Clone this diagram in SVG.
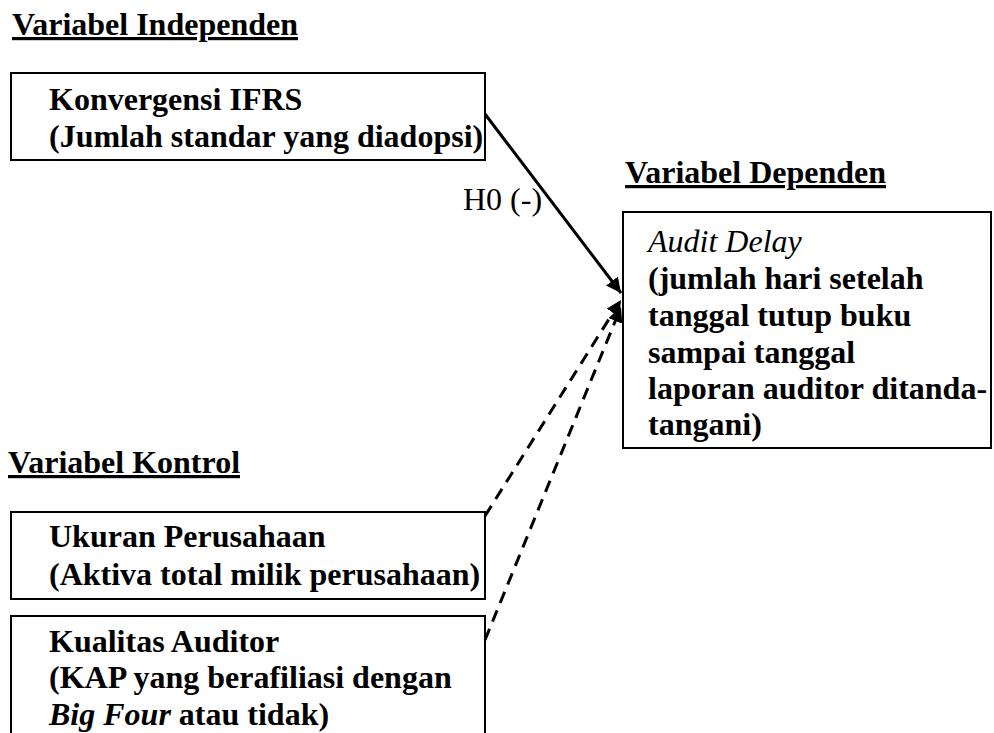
<svg xmlns="http://www.w3.org/2000/svg" width="994" height="733" viewBox="0 0 994 733">
<style>
text{font-family:"Liberation Serif","Times New Roman",serif;font-size:32px;fill:#000}
.b{font-weight:bold}
.t{font-weight:bold;text-decoration:underline}
.i{font-style:italic}
.box{fill:#fff;stroke:#000;stroke-width:2}
.c{stroke:#000;stroke-width:3;fill:none}
.d{stroke-dasharray:12 8}
</style>
<defs>
<marker id="ah" viewBox="0 0 10 10" refX="10" refY="5" markerWidth="5" markerHeight="5" markerUnits="strokeWidth" orient="auto">
<path d="M0,0L10,5L0,10z" fill="#000"/>
</marker>
</defs>
<rect width="994" height="733" fill="#fff"/>
<text class="t" x="12" y="35">Variabel Independen</text>
<text class="t" x="625" y="183">Variabel Dependen</text>
<text class="t" x="8" y="473">Variabel Kontrol</text>
<g id="n-ifrs">
<rect class="box" x="11" y="73" width="474" height="87"/>
<text class="b" x="49" y="110">Konvergensi IFRS</text>
<text class="b" x="49" y="147">(Jumlah standar yang diadopsi)</text>
</g>
<g id="n-delay">
<rect class="box" x="623" y="212" width="368" height="236"/>
<text class="i" x="648" y="252">Audit Delay</text>
<text class="b" x="648" y="289">(jumlah hari setelah</text>
<text class="b" x="648" y="326">tanggal tutup buku</text>
<text class="b" x="648" y="363">sampai tanggal</text>
<text class="b" x="648" y="399">laporan auditor ditanda-</text>
<text class="b" x="648" y="435">tangani)</text>
</g>
<g id="n-ukuran">
<rect class="box" x="11" y="512" width="474" height="87"/>
<text class="b" x="49" y="547">Ukuran Perusahaan</text>
<text class="b" x="49" y="585">(Aktiva total milik perusahaan)</text>
</g>
<g id="n-kualitas">
<rect class="box" x="11" y="616" width="474" height="130"/>
<text class="b" x="49" y="652">Kualitas Auditor</text>
<text class="b" x="49" y="688">(KAP yang berafiliasi dengan</text>
<text class="b" x="49" y="725"><tspan class="i">Big Four</tspan> atau tidak)</text>
</g>
<g id="connectors">
<line class="c" x1="485" y1="114" x2="621" y2="293" marker-end="url(#ah)"/>
<text x="463" y="210">H0 (-)</text>
<line class="c d" x1="485" y1="516" x2="621" y2="300" marker-end="url(#ah)"/>
<line class="c d" x1="485" y1="640" x2="621" y2="307" marker-end="url(#ah)"/>
</g>
</svg>
